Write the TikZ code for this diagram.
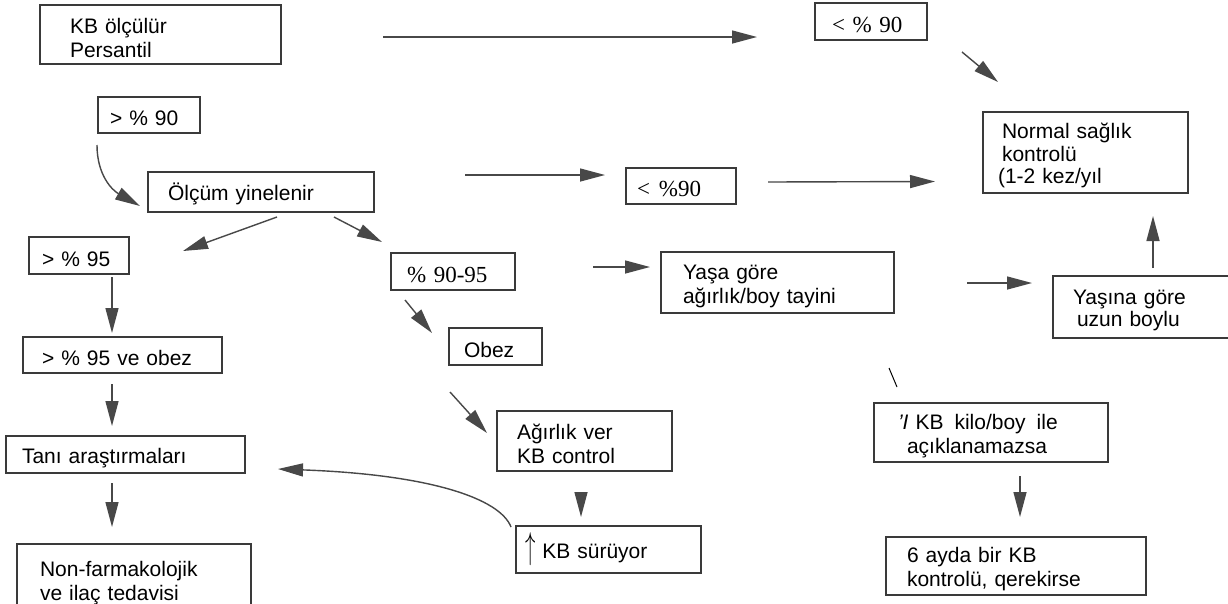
\documentclass[tikz,border=0pt]{standalone}
\usepackage{fontspec}
\usepackage{graphicx}
\setmainfont{Liberation Sans}
\newfontfamily\serf{Liberation Serif}
\usetikzlibrary{arrows.meta,calc}
\definecolor{boxc}{HTML}{3A3A3A}
\definecolor{arrc}{HTML}{484848}
\newcommand\bx[8][]{%
 \pgfmathsetmacro\bxh{#6-#4}%
 \pgfmathsetmacro\bxtw{#5-#3-2*#7}%
 \node[box,#1,anchor=north west,inner xsep=#7pt,text width=\bxtw pt,minimum height=\bxh pt] (#2) at (#3,#4) {\rule{0pt}{21.5pt}#8};}
\tikzset{
 box/.style={draw=boxc, line width=1.3pt, outer sep=0pt, inner ysep=2pt, align=left,
   font=\fontsize{21}{24}\selectfont, text=black},
 ser/.style={font=\serf\fontsize{23}{26}\selectfont},
 arr/.style={draw=arrc, line width=1.4pt, -{Triangle[length=25pt,width=13pt]}},
 thinline/.style={draw=black, line width=1pt}
}
\begin{document}
\begin{tikzpicture}[x=1pt,y=-1pt]
\clip (0,0) rectangle (1228,603);
\fill[white] (0,0) rectangle (1228,603);
\bx{kb}{40}{5}{281}{64}{30}{KB ölçülür\\Persantil}
\bx[ser]{lt90a}{815}{3}{927}{40}{17}{< \% 90}
\bx{gt90}{98}{97}{200}{133}{12}{> \% 90}
\bx{olcum}{148}{172}{374}{212}{20}{Ölçüm yinelenir}
\bx[ser]{lt90b}{626}{168}{736}{204}{11}{<\hspace{9pt}\%90}
\bx[font=\fontsize{21}{22.5}\selectfont]{normal}{983}{112}{1188}{193}{19}{Normal sağlık\\kontrolü\\\hspace*{-4pt}(1-2 kez/yıl}
\bx{gt95}{29}{237}{129}{274}{13}{> \% 95}
\bx[ser]{p9095}{391}{253}{515}{290}{16}{\% 90-95}
\bx{yasa}{661}{252}{894}{313}{22}{Yaşa göre\\ağırlık/boy tayini}
\bx[font=\fontsize{21}{22.5}\selectfont]{yasina}{1053}{276}{1239}{338}{20}{Yaşına göre\\\hspace*{4pt}uzun boylu}
\bx{obez}{449}{328}{542}{365}{15}{Obez}
\bx{gt95obez}{23}{337}{222}{373}{19}{> \% 95 ve obez}
\bx{tani}{6}{436}{245}{473}{16}{Tanı araştırmaları}
\bx{nonfarm}{17}{544}{251}{615}{23}{Non-farmakolojik\\ve ilaç tedavisi}
\bx{agirlik}{497}{411}{672}{471}{20}{Ağırlık ver\\KB control}
\bx{suruyor}{516}{526}{701}{573}{9}{\scalebox{1}[1.8]{$\uparrow$} KB sürüyor}
\bx{kilo}{874}{403}{1108}{462}{24}{\textit{'I} KB\hspace{4pt} kilo/boy\hspace{4pt} ile\\\hspace*{9pt}açıklanamazsa}
\bx{ayda}{886}{537}{1146}{595}{21}{6 ayda bir KB\\kontrolü, qerekirse}

\draw[arr] ($(kb.east)+(102,2.5)$) -- ($(lt90a.west)+(-58,15.5)$);
\draw[arr] ($(lt90a.south east)+(35,12)$) -- ($(normal.north west)+(15,-30)$);
\draw[arr] ($(gt90.south west)+(-1,12)$) .. controls ($(gt90.south west)+(-1,42)$) and ($(olcum.west)+(-36,-2)$) .. ($(olcum.west)+(-8,14)$);
\draw[arr] ($(olcum.north east)+(91,3)$) -- ($(lt90b.west)+(-21,-11)$);
\draw[arr] ($(lt90b.east)+(32,-4)$) -- ($(normal.west)+(-48,29)$);
\draw[arr] ($(olcum.south)+(16,5)$) -- ($(gt95.north east)+(54,14)$);
\draw[arr] ($(olcum.south east)+(-40,5)$) -- ($(p9095.north west)+(-9,-11)$);
\draw[arr] ($(gt95.south)+(33,3)$) -- ($(gt95obez.north)+(-10.5,-4)$);
\draw[arr] ($(gt95obez.south)+(-10.5,11)$) -- ($(tani.north)+(-13.5,-10)$);
\draw[arr] ($(tani.south)+(-13.5,10)$) -- ($(nonfarm.north)+(-22,-17)$);
\draw[arr] ($(p9095.south west)+(14,10)$) -- ($(obez.west)+(-17,-13.5)$);
\draw[arr] ($(p9095.east)+(78,-4.5)$) -- ($(yasa.west)+(-11,-15.5)$);
\draw[arr] ($(yasa.east)+(73,0.5)$) -- ($(yasina.west)+(-21,-24)$);
\draw[arr] ($(yasina.north)+(7,-8)$) -- ($(normal.south)+(67.5,23)$);
\draw[arr] ($(obez.south west)+(1,27)$) -- ($(agirlik.west)+(-10,-8)$);
\draw[arr] ($(agirlik.south)+(-3.5,21)$) -- ($(suruyor.north)+(-27.5,-9)$);
\draw[arr] ($(suruyor.west)+(-5,-22.5)$) .. controls ($(suruyor.west)+(-16,-51)$) and ($(tani.east)+(185,20)$) .. ($(tani.east)+(33,14.5)$);
\draw[thinline] ($(yasa.south east)+(-5,55)$) -- ($(kilo.north west)+(23,-16)$);
\draw[arr] ($(kilo.south)+(29,14)$) -- ($(ayda.north)+(4,-20)$);
\end{tikzpicture}
\end{document}
